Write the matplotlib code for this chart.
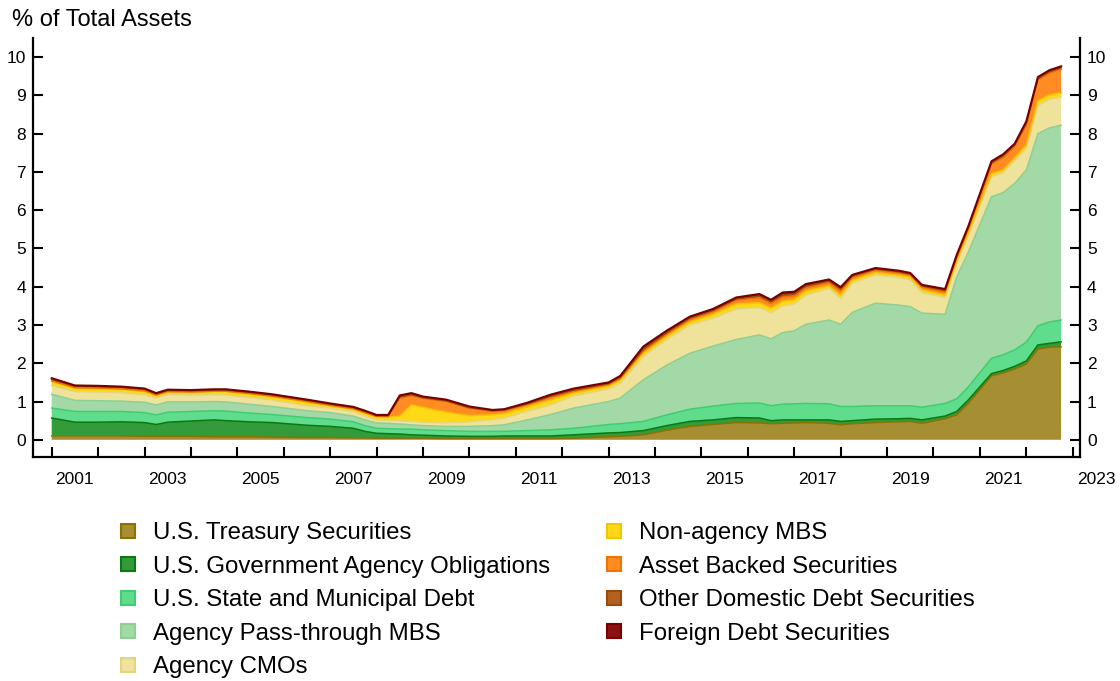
import numpy as np
import matplotlib
matplotlib.use("Agg")
import matplotlib.pyplot as plt
import matplotlib.transforms as mtransforms
from matplotlib.lines import Line2D

plt.rcParams['font.family'] = ['Liberation Sans', 'DejaVu Sans']

# dates (decimal years) and holdings, % of total assets
dates = [2001.0, 2001.5, 2002.0, 2002.5, 2003.0, 2003.25, 2003.5, 2004.0, 2004.5, 2004.75,
         2005.25, 2005.75, 2006.5, 2007.0, 2007.5, 2007.75, 2008.0, 2008.25, 2008.5, 2008.75,
         2009.0, 2009.5, 2010.0, 2010.5, 2010.75, 2011.25, 2011.75, 2012.25, 2013.0, 2013.25,
         2013.75, 2014.25, 2014.75, 2015.25, 2015.75, 2016.25, 2016.5, 2016.75, 2017.0, 2017.25,
         2017.75, 2018.0, 2018.25, 2018.75, 2019.25, 2019.5, 2019.75, 2020.25, 2020.5, 2020.75,
         2021.25, 2021.5, 2021.75, 2022.0, 2022.25, 2022.5, 2022.75]

treasury = [.10, .10, .10, .10, .09, .09, .09, .09, .08, .08,
            .08, .07, .06, .06, .05, .05, .04, .04, .04, .04,
            .04, .03, .03, .03, .03, .03, .03, .04, .08, .09,
            .13, .25, .35, .40, .45, .44, .42, .43, .44, .45,
            .43, .39, .42, .45, .47, .48, .43, .55, .65, .95,
            1.67, 1.75, 1.85, 1.98, 2.37, 2.42, 2.43]
agency = [.47, .36, .36, .37, .36, .31, .37, .40, .44, .42,
          .39, .38, .32, .29, .25, .17, .13, .12, .11, .09,
          .08, .07, .06, .06, .07, .07, .07, .09, .10, .10,
          .11, .12, .13, .12, .13, .13, .08, .09, .08, .07,
          .09, .09, .08, .09, .08, .08, .09, .07, .09, .09,
          .06, .06, .07, .08, .11, .10, .13]
muni = [.26, .28, .28, .27, .26, .25, .26, .25, .24, .25,
        .23, .21, .20, .19, .17, .15, .13, .13, .13, .15,
        .14, .14, .13, .13, .12, .14, .16, .17, .22, .23,
        .24, .28, .32, .36, .37, .39, .39, .41, .42, .43,
        .42, .39, .37, .35, .34, .33, .33, .33, .33, .34,
        .40, .41, .43, .49, .50, .56, .57]
passthrough = [.36, .29, .28, .27, .27, .26, .27, .25, .24, .24,
               .23, .21, .18, .17, .15, .15, .14, .14, .13, .11,
               .11, .11, .13, .15, .17, .28, .40, .53, .60, .67,
               1.09, 1.30, 1.46, 1.57, 1.67, 1.78, 1.75, 1.87, 1.91, 2.07,
               2.19, 2.15, 2.46, 2.68, 2.63, 2.59, 2.46, 2.33, 3.18, 3.52,
               4.22, 4.24, 4.35, 4.50, 5.02, 5.07, 5.09]
cmo = [.23, .23, .23, .22, .20, .18, .19, .18, .18, .18,
       .18, .17, .13, .12, .12, .10, .08, .08, .09, .09,
       .09, .09, .12, .16, .18, .23, .25, .32, .33, .39,
       .61, .67, .74, .73, .80, .72, .68, .70, .70, .76,
       .83, .68, .77, .74, .72, .70, .54, .44, .37, .45,
       .53, .52, .60, .57, .74, .75, .74]
nonagency = [.10, .09, .09, .09, .09, .07, .07, .07, .08, .09,
             .09, .09, .10, .06, .06, .08, .08, .08, .12, .43,
             .39, .28, .16, .12, .11, .11, .13, .07, .07, .08,
             .08, .08, .08, .10, .13, .12, .12, .12, .11, .11,
             .06, .08, .07, .06, .06, .07, .07, .06, .05, .05,
             .07, .07, .07, .08, .12, .11, .11]
asset_backed = [.02, .01, .01, .01, .01, .01, .01, .01, .01, .01,
                .01, .01, .01, .01, .01, .01, .01, .02, .46, .24,
                .23, .28, .19, .09, .08, .06, .07, .05, .04, .04,
                .06, .06, .06, .07, .10, .13, .12, .11, .10, .08,
                .09, .11, .07, .07, .06, .06, .07, .08, .08, .10,
                .25, .32, .29, .52, .54, .57, .61]
other_domestic = [.04, .04, .04, .04, .04, .03, .03, .03, .03, .03,
                  .03, .03, .03, .03, .03, .03, .02, .02, .04, .03,
                  .02, .02, .02, .02, .02, .02, .03, .03, .03, .03,
                  .05, .04, .04, .03, .03, .05, .05, .06, .05, .05,
                  .04, .05, .04, .02, .03, .02, .03, .04, .05, .05,
                  .04, .05, .04, .05, .04, .04, .04]
foreign = [.03, .02, .02, .02, .02, .02, .02, .02, .02, .02,
           .02, .02, .02, .02, .02, .02, .02, .02, .04, .04,
           .03, .03, .03, .02, .02, .03, .04, .04, .03, .04,
           .07, .05, .04, .04, .04, .05, .05, .06, .06, .05,
           .04, .05, .03, .03, .03, .03, .03, .04, .03, .03,
           .04, .04, .04, .05, .04, .04, .04]

labels = ["U.S. Treasury Securities", "U.S. Government Agency Obligations",
          "U.S. State and Municipal Debt", "Agency Pass-through MBS", "Agency CMOs",
          "Non-agency MBS", "Asset Backed Securities", "Other Domestic Debt Securities",
          "Foreign Debt Securities"]
series = [treasury, agency, muni, passthrough, cmo, nonagency, asset_backed,
          other_domestic, foreign]
faces = ["#A68F33", "#339B3A", "#5FDD8D", "#A3D9A6", "#EFE39B",
         "#FFD817", "#FF8C22", "#B4601E", "#8B1212"]
edges = ["#8A7200", "#0B790F", "#40CD70", "#8ECF93", "#E4D47E",
         "#F2C500", "#EE7600", "#984A10", "#780000"]

fig = plt.figure(figsize=(11.2, 6.81), dpi=100)
ax = fig.add_axes([33 / 1120, 224 / 681, 1047 / 1120, 419 / 681])

ax.stackplot(dates, *series, colors=faces, linewidth=0)
tops = np.cumsum(np.array(series), axis=0)
for i, top in enumerate(tops):
    ax.plot(dates, top, color=edges[i], lw=1.5 if i == len(tops) - 1 else 1.1,
            solid_joinstyle="round")

ax.set_xlim(2000.597, 2023.157)
ax.set_ylim(-0.45, 10.5)

# spines / ticks
for s in ["left", "right", "bottom"]:
    ax.spines[s].set_linewidth(1.6)
ax.spines["top"].set_visible(False)

ax.set_yticks(range(0, 11))
ax.tick_params(axis="y", which="major", direction="in", length=7.5, width=1.5,
               labelsize=12.5, left=True, right=True, labelleft=True, labelright=True, pad=5)
ax.set_xticks(range(2001, 2024))
ax.tick_params(axis="x", which="major", direction="in", length=7.5, width=1.5,
               labelbottom=False)

# year labels sit mid-year between the ticks
trans = mtransforms.blended_transform_factory(ax.transData, ax.transAxes)
for yr in range(2001, 2024, 2):
    ax.text(yr + 0.5, -0.035, str(yr), transform=trans, ha="center", va="top",
            fontsize=12.5, clip_on=False)

fig.text(12 / 1120, 1 - 20 / 681, "% of Total Assets", fontsize=17,
         ha="left", va="center")

handles = [Line2D([], [], ls="none", marker="s", markersize=9.5,
                  markerfacecolor=faces[i], markeredgecolor=edges[i],
                  markeredgewidth=1.5) for i in range(len(labels))]
fig.legend(handles, labels, ncol=2, loc="upper left",
           bbox_to_anchor=(116 / 1120, 1 - 522 / 681), frameon=False,
           fontsize=17.3, borderpad=0, borderaxespad=0, handlelength=1.0,
           handletextpad=0.55, columnspacing=2.15, labelspacing=0.48)

fig.savefig("out.png", dpi=100)
